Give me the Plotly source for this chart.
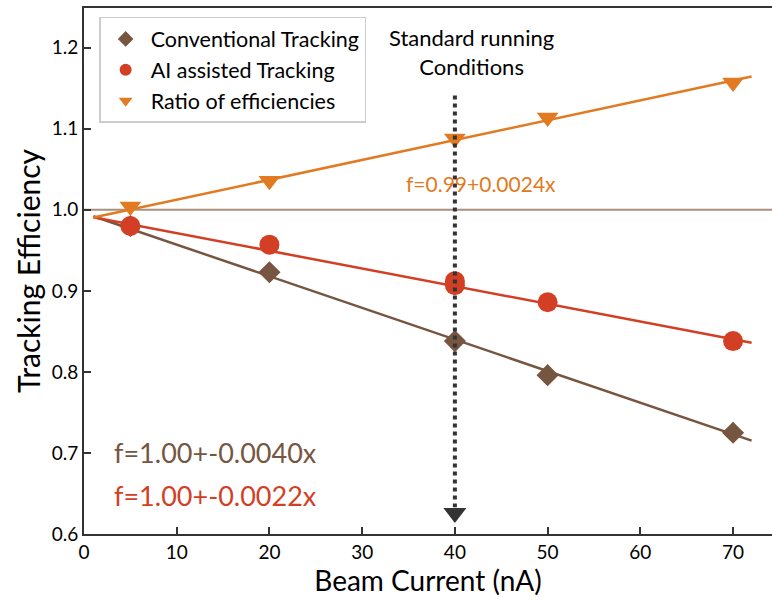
import plotly.graph_objects as go
import numpy as np

# Data
beam_current = [5, 20, 40, 50, 70]
conventional = [0.980, 0.923, 0.838, 0.796, 0.725]
ai_x = [5, 20, 40, 40, 50, 70]
ai_assisted = [0.980, 0.957, 0.912, 0.907, 0.886, 0.838]
ratio = [1.004, 1.036, 1.088, 1.114, 1.157]

# Fit parameters (intercept, slope)
fit_conv = (0.996, -0.0039)
fit_ai = (0.993, -0.00218)
fit_ratio = (0.988, 0.00245)
fit_x = [1.0, 72.0]

brown = "#765641"
red = "#d23f25"
orange = "#e17a20"
dark = "#333333"
font = "Lato, 'Open Sans', sans-serif"

fig = go.Figure()

# reference line at 1.0
fig.add_trace(go.Scatter(x=[0, 80], y=[1.0, 1.0], mode="lines",
                         line=dict(color="#a89080", width=2), showlegend=False, hoverinfo="skip"))

for (a, b), c in [(fit_conv, brown), (fit_ai, red), (fit_ratio, orange)]:
    fx = np.array(fit_x)
    fig.add_trace(go.Scatter(x=fx, y=a + b * fx, mode="lines",
                             line=dict(color=c, width=2.5), showlegend=False, hoverinfo="skip"))

fig.add_trace(go.Scatter(x=beam_current, y=conventional, mode="markers", name="Conventional Tracking",
                         marker=dict(symbol="diamond", size=17, color=brown)))
fig.add_trace(go.Scatter(x=ai_x, y=ai_assisted, mode="markers", name="AI assisted Tracking",
                         marker=dict(symbol="circle", size=20, color=red)))
fig.add_trace(go.Scatter(x=beam_current, y=ratio, mode="markers", name="Ratio of efficiencies",
                         marker=dict(symbol="triangle-down", size=19, color=orange)))

# Standard running conditions arrow
fig.add_trace(go.Scatter(x=[40, 40], y=[1.141, 0.633], mode="lines",
                         line=dict(color=dark, width=4, dash="dot"), showlegend=False, hoverinfo="skip"))
fig.add_trace(go.Scatter(x=[40], y=[0.626], mode="markers",
                         marker=dict(symbol="triangle-down", size=20, color=dark),
                         showlegend=False, hoverinfo="skip"))

fig.add_annotation(x=41.8, y=1.195, text="Standard running<br>Conditions", showarrow=False,
                   font=dict(family=font, size=22, color="black"), xanchor="center", yanchor="middle")
fig.add_annotation(x=34.5, y=1.033, text="f=0.99+0.0024x", showarrow=False, xanchor="left",
                   font=dict(family=font, size=21, color=orange))
fig.add_annotation(x=3.0, y=0.701, text="f=1.00+-0.0040x", showarrow=False, xanchor="left",
                   font=dict(family=font, size=27, color=brown))
fig.add_annotation(x=3.0, y=0.647, text="f=1.00+-0.0022x", showarrow=False, xanchor="left",
                   font=dict(family=font, size=27, color=red))

fig.update_layout(
    width=772, height=606,
    margin=dict(l=84, r=0, t=8, b=72),
    plot_bgcolor="white", paper_bgcolor="white",
    font=dict(family=font, size=19, color="black"),
    legend=dict(x=0.022, y=0.983, xanchor="left", yanchor="top",
                bgcolor="white", bordercolor="#cccccc", borderwidth=1.5,
                font=dict(family=font, size=21.5, color="black"),
                itemsizing="constant", itemwidth=40, tracegroupgap=0),
    xaxis=dict(range=[0, 74.2], tickvals=[0, 10, 20, 30, 40, 50, 60, 70],
               ticks="inside", ticklen=7, tickwidth=1.5, tickcolor=dark,
               showline=True, linecolor=dark, linewidth=2, mirror=True,
               showgrid=False, zeroline=False,
               title=dict(text="Beam Current (nA)", font=dict(family=font, size=28), standoff=5),
               tickfont=dict(family=font, size=19)),
    yaxis=dict(range=[0.6, 1.249], tickvals=[0.6, 0.7, 0.8, 0.9, 1.0, 1.1, 1.2],
               tickformat=".1f",
               ticks="inside", ticklen=7, tickwidth=1.5, tickcolor=dark,
               showline=True, linecolor=dark, linewidth=2,
               showgrid=False, zeroline=False,
               title=dict(text="Tracking Efficiency", font=dict(family=font, size=30), standoff=2),
               tickfont=dict(family=font, size=19)),
)

fig.write_html("out.html")
